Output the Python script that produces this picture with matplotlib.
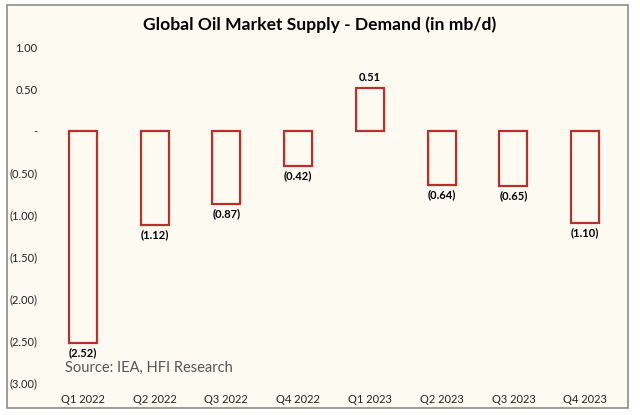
import matplotlib
matplotlib.use("Agg")
import matplotlib.pyplot as plt
from matplotlib.patches import Rectangle

categories = ["Q1 2022", "Q2 2022", "Q3 2022", "Q4 2022", "Q1 2023", "Q2 2023", "Q3 2023", "Q4 2023"]
values = [-2.52, -1.12, -0.87, -0.42, 0.51, -0.64, -0.65, -1.10]
yticks = [1.0, 0.5, 0.0, -0.5, -1.0, -1.5, -2.0, -2.5, -3.0]
ytick_labels = ["1.00", "0.50", "-", "(0.50)", "(1.00)", "(1.50)", "(2.00)", "(2.50)", "(3.00)"]

def fmt(v):
    return f"{v:.2f}" if v >= 0 else f"({abs(v):.2f})"

W, H = 640, 415
FONT = "Lato"
fig = plt.figure(figsize=(6.4, 4.15), dpi=100)
fig.patch.set_facecolor("white")
bg = "#FDFAF2"
fig.patches.append(Rectangle((7 / W, 1 - 408 / H), 621 / W, 403 / H, transform=fig.transFigure,
                             facecolor=bg, edgecolor="#8c8c8c", linewidth=1.2, zorder=-10))

ax = fig.add_axes([47 / W, 1 - 383 / H, 574 / W, 336 / H])
ax.set_facecolor("none")
x = list(range(len(categories)))
ax.bar(x, values, width=0.39, facecolor=bg, edgecolor="#B8302A", linewidth=1.6)
ax.set_xlim(-0.5, len(categories) - 0.5)
ax.set_ylim(-3.0, 1.0)
for s in ax.spines.values():
    s.set_visible(False)
ax.set_yticks(yticks)
ax.set_yticklabels(ytick_labels, fontsize=8, family=FONT)
ax.set_xticks(x)
ax.set_xticklabels(categories, fontsize=8, family=FONT)
ax.tick_params(axis="both", length=0, colors="#222222")
ax.tick_params(axis="y", pad=7)
ax.tick_params(axis="x", pad=8)

for xi, v in zip(x, values):
    if v >= 0:
        ax.annotate(fmt(v), (xi, v), xytext=(0, 4), textcoords="offset points", ha="center", va="bottom",
                    fontsize=8, fontweight="bold", family=FONT)
    else:
        ax.annotate(fmt(v), (xi, v), xytext=(0, -3), textcoords="offset points", ha="center", va="top",
                    fontsize=8, fontweight="bold", family=FONT)

fig.text(65 / W, 1 - 368 / H, "Source: IEA, HFI Research", fontsize=10.5, color="#555555",
         va="center", ha="left", family=FONT)
fig.text(320 / W, 1 - 25 / H, "Global Oil Market Supply - Demand (in mb/d)", fontsize=12.6,
         fontweight="bold", ha="center", va="center", family=FONT)

fig.savefig("out.png", dpi=100, facecolor="white")
